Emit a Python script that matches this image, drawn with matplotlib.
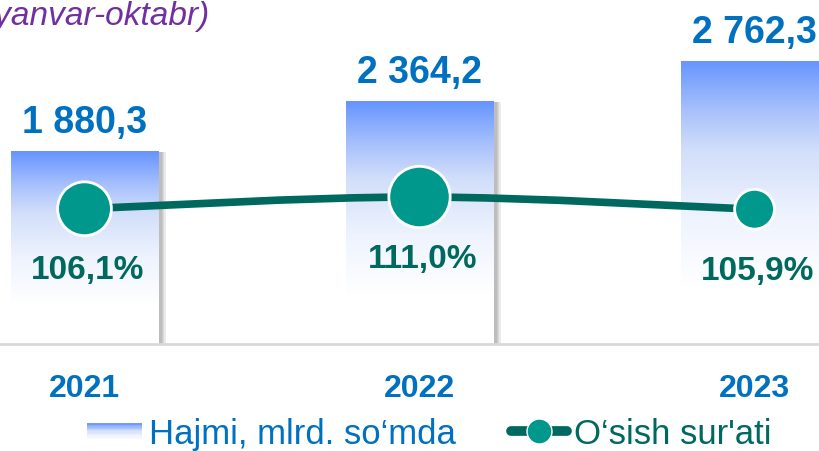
import numpy as np
import matplotlib.pyplot as plt
import matplotlib.colors as mcolors
import matplotlib.patheffects as pe
from matplotlib.patches import Rectangle, PathPatch
from matplotlib.path import Path
from matplotlib.lines import Line2D
from matplotlib.legend_handler import HandlerBase

plt.rcParams['font.family'] = ['Liberation Sans', 'DejaVu Sans']

# data
years = ['2021', '2022', '2023']
volume = [1880.3, 2364.2, 2762.3]   # Hajmi, mlrd. so'mda
growth = [106.1, 111.0, 105.9]      # O'sish sur'ati, %

# styles
blue_txt = '#0070C0'
teal_line = '#00695F'
teal_mark = '#00978D'
purple = '#7030A0'
marker_sizes = [1500, 1950, 820]

grad_cmap = mcolors.LinearSegmentedColormap.from_list(
    'bargrad',
    [(0.0, '#ffffff'), (0.2, '#ffffff'), (0.45, '#eef3fe'),
     (0.68, '#d2dffa'), (0.82, '#a9c2fc'), (1.0, '#6694ff')])


def fmt_num(v):
    s = f'{v:,.1f}'
    return s.replace(',', ' ').replace('.', ',')


fig = plt.figure(figsize=(8.19, 4.52), dpi=100)
ax = fig.add_axes([0, 107 / 452, 1, 345 / 452])

x = np.arange(len(years))
bw = 0.44
shadow = [pe.SimplePatchShadow(offset=(o, -0.5), shadow_rgbFace='#808080', alpha=0.16)
          for o in (5.5, 4.5, 3.5, 2.5)]
bars = ax.bar(x, volume, width=bw, facecolor='white', edgecolor='none', zorder=2,
              path_effects=shadow + [pe.Normal()])

grad = np.linspace(1, 0, 256).reshape(-1, 1)
for b in bars:
    x0, w, h = b.get_x(), b.get_width(), b.get_height()
    im = ax.imshow(grad, extent=(x0, x0 + w, 0, h), aspect='auto', cmap=grad_cmap,
                   vmin=0, vmax=1, origin='upper', zorder=3)
    im.set_clip_path(b)

for xi, v in zip(x, volume):
    ax.annotate(fmt_num(v), (xi, v), xytext=(0, 8), textcoords='offset points',
                ha='center', va='bottom', fontsize=27, fontweight='bold', color=blue_txt)

ax.set_xlim(-0.2522, 2.1925)
ax.set_ylim(0, 3363)
ax.set_yticks([])
ax.set_xticks(x)
ax.set_xticklabels(years, fontsize=23, fontweight='bold', color=blue_txt)
ax.tick_params(axis='x', length=0, pad=21)
for s in ['top', 'left', 'right']:
    ax.spines[s].set_visible(False)
ax.spines['bottom'].set_color('#d9d9d9')
ax.spines['bottom'].set_linewidth(2)
ax.spines['bottom'].set_zorder(6)

# growth line on a secondary axis
ax2 = ax.twinx()
ax2.set_ylim(49.75, 193.5)
ax2.set_axis_off()

pts = np.column_stack([x, growth]).astype(float)
verts = [tuple(pts[0])]
codes = [Path.MOVETO]
n = len(pts)
for i in range(n - 1):
    p0 = pts[i - 1] if i > 0 else pts[i]
    p1, p2 = pts[i], pts[i + 1]
    p3 = pts[i + 2] if i + 2 < n else pts[i + 1]
    c1 = p1 + (p2 - p0) / 6
    c2 = p2 - (p3 - p1) / 6
    verts += [tuple(c1), tuple(c2), tuple(p2)]
    codes += [Path.CURVE4] * 3
ax2.add_patch(PathPatch(Path(verts, codes), facecolor='none', edgecolor=teal_line,
                        lw=5.5, capstyle='round', zorder=4))
ax2.scatter(x, growth, s=marker_sizes, color=teal_mark, edgecolor='white', linewidth=2, zorder=5)

for xi, g in zip(x, growth):
    ax2.annotate(f'{g:.1f}%'.replace('.', ','), (xi + 0.01, g), xytext=(0, -44),
                 textcoords='offset points', ha='center', va='center',
                 fontsize=24, fontweight='bold', color=teal_line)

fig.text(210 / 819, 1 - 17 / 452, '(yanvar-oktabr)', ha='right', va='center',
         fontsize=24, style='italic', color=purple)


class GradientHandler(HandlerBase):
    def create_artists(self, legend, orig_handle, xdescent, ydescent, width, height, fontsize, trans):
        k = 12
        h = height * 0.62
        y0 = -ydescent + (height - h) / 2
        arts = []
        for j in range(k):
            c = grad_cmap(0.3 + 0.7 * (j + 0.5) / k)
            arts.append(Rectangle((-xdescent, y0 + h * j / k), width, h / k + 0.3,
                                  facecolor=c, edgecolor='none', transform=trans))
        return arts


h_bar = Rectangle((0, 0), 1, 1)
h_line = Line2D([], [], color=teal_line, lw=7, solid_capstyle='round', marker='o',
                markersize=18, markerfacecolor=teal_mark, markeredgecolor='white',
                markeredgewidth=1)
leg = fig.legend([h_bar, h_line], ['Hajmi, mlrd. so‘mda', 'O‘sish sur\'ati'],
                 handler_map={Rectangle: GradientHandler()},
                 loc='center', bbox_to_anchor=(429 / 819, 17 / 452), ncol=2, frameon=False,
                 fontsize=25, handlelength=1.6, handletextpad=0.2, columnspacing=1.6,
                 borderpad=0, borderaxespad=0)
leg.get_texts()[0].set_color(blue_txt)
leg.get_texts()[1].set_color(teal_line)

fig.savefig('out.png', dpi=100)
